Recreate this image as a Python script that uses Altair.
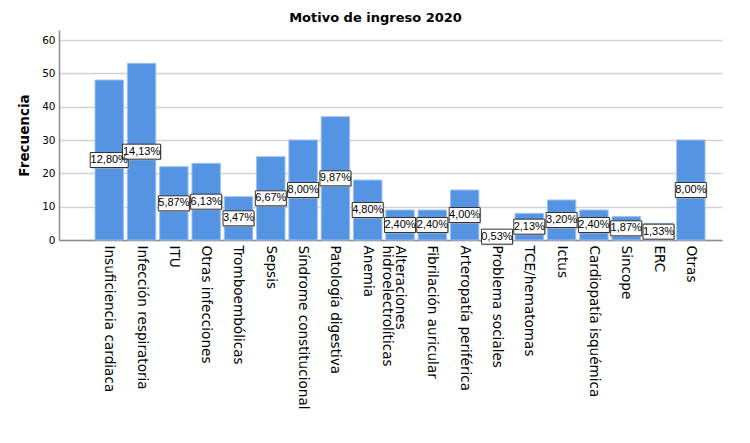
import altair as alt
import pandas as pd

categorias = [
    "Insuficiencia cardiaca", "Infección respiratoria", "ITU", "Otras infecciones",
    "Tromboembólicas", "Sepsis", "Síndrome constitucional", "Patología digestiva",
    "Anemia", "Alteraciones\nhidroelectrolíticas", "Fibrilación auricular",
    "Arteropatía periférica", "Problema sociales", "TCE/hematomas", "Ictus",
    "Cardiopatía isquémica", "Sincope", "ERC", "Otras",
]
frecuencias = [48, 53, 22, 23, 13, 25, 30, 37, 18, 9, 9, 15, 2, 8, 12, 9, 7, 5, 30]
porcentajes = [
    "12,80%", "14,13%", "5,87%", "6,13%", "3,47%", "6,67%", "8,00%", "9,87%",
    "4,80%", "2,40%", "2,40%", "4,00%", "0,53%", "2,13%", "3,20%", "2,40%",
    "1,87%", "1,33%", "8,00%",
]
ticks_y = [0, 10, 20, 30, 40, 50, 60]

df = pd.DataFrame({"cat": categorias, "n": frecuencias, "pct": porcentajes})

x_scale = alt.Scale(paddingInner=0.12, paddingOuter=0.82, align=0.68)
x_axis = alt.Axis(
    title=None, labelAngle=90, labelAlign="left", labelBaseline="middle",
    ticks=False, labelPadding=5, domainColor="#8c8c8c", domainWidth=1.5,
    labelFont="DejaVu Sans", labelFontSize=13.6, labelColor="#000",
    labelExpr="split(datum.label, '\\n')", labelLimit=0, grid=False,
    labelLineHeight=13, labelOverlap=False,
)
y_scale = alt.Scale(domain=[0, 63], nice=False, zero=True)
y_axis = alt.Axis(
    values=ticks_y, labelOverlap=False, title="Frecuencia",
    titleFont="DejaVu Sans", titleFontWeight="bold", titleFontSize=13.5,
    titleColor="#000", titlePadding=10,
    gridColor="#d2d2d2", gridWidth=1.5, domainColor="#8c8c8c", domainWidth=1.5,
    ticks=False, labelPadding=4, labelFont="DejaVu Sans", labelFontSize=10.5,
    labelColor="#000",
)

x_enc = alt.X("cat:N", sort=categorias, scale=x_scale, axis=x_axis)

base = alt.Chart(df)

bars = base.mark_bar(color="#5594E2", stroke="#9dc0ef", strokeWidth=1).encode(
    x=x_enc, y=alt.Y("n:Q", scale=y_scale, axis=y_axis)
)

mid = base.transform_calculate(mid="datum.n / 2", ln="length(datum.pct)")
y_mid = alt.Y("mid:Q", scale=y_scale, axis=y_axis)


def caja(filtro, ancho):
    sombra = mid.transform_filter(filtro).mark_bar(
        width=ancho, fill="#b8b8b8", strokeWidth=0, xOffset=1,
        yOffset=-6.5, y2Offset=8.5,
    ).encode(x=x_enc, y=y_mid, y2="mid:Q")
    blanca = mid.transform_filter(filtro).mark_bar(
        width=ancho, fill="white", stroke="#333333", strokeWidth=1,
        yOffset=-7.5, y2Offset=7.5,
    ).encode(x=x_enc, y=y_mid, y2="mid:Q")
    return sombra, blanca


s_long, b_long = caja("datum.ln > 5", 38)
s_short, b_short = caja("datum.ln <= 5", 31)

texts = mid.mark_text(
    font="Liberation Sans", fontSize=11, color="#000", baseline="middle", align="center"
).encode(x=x_enc, y=y_mid, text="pct:N")

chart = alt.layer(bars, s_long, s_short, b_long, b_short, texts).properties(
    width=663, height=210,
    title=alt.TitleParams(
        "Motivo de ingreso 2020", font="DejaVu Sans", fontSize=13, fontWeight="bold",
        color="#000", anchor="middle", dx=-15, offset=5,
    ),
    autosize=alt.AutoSizeParams(type="none"),
    padding={"left": 51, "top": 22, "right": 20, "bottom": 195},
).configure_view(stroke=None)

chart.save("out.html", embed_options={"renderer": "svg", "actions": False})
